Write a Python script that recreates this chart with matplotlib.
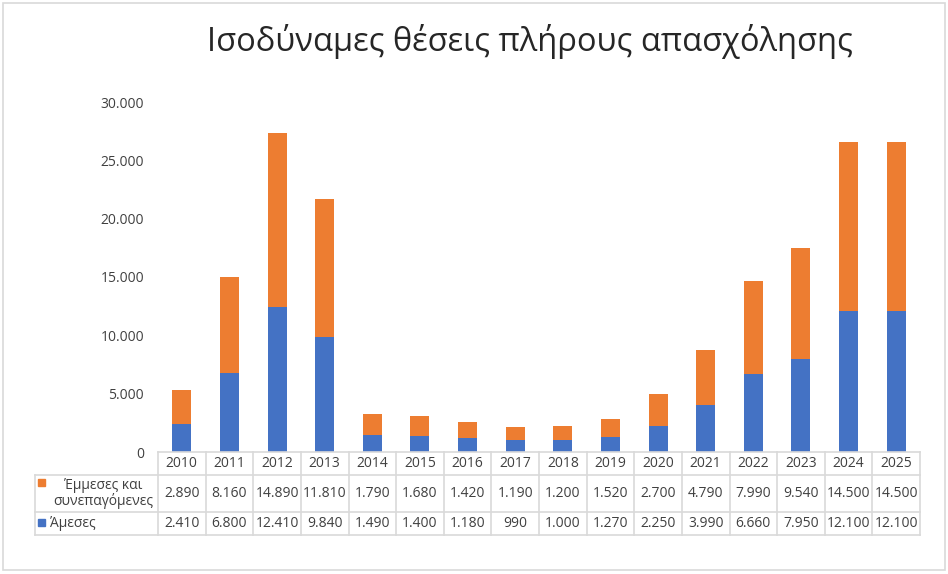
import numpy as np
import matplotlib.pyplot as plt
from matplotlib.transforms import blended_transform_factory
from matplotlib.patches import Rectangle

plt.rcParams['font.family'] = ['Open Sans', 'DejaVu Sans']

# Data
years = ['2010', '2011', '2012', '2013', '2014', '2015', '2016', '2017',
         '2018', '2019', '2020', '2021', '2022', '2023', '2024', '2025']
amesis = [2410, 6800, 12410, 9840, 1490, 1400, 1180, 990,
          1000, 1270, 2250, 3990, 6660, 7950, 12100, 12100]
emmeses = [2890, 8160, 14890, 11810, 1790, 1680, 1420, 1190,
           1200, 1520, 2700, 4790, 7990, 9540, 14500, 14500]
series_names = ['Έμμεσες και\nσυνεπαγόμενες', 'Άμεσες']

blue = '#4472C4'
orange = '#ED7D31'
grid_c = '#D9D9D9'
txt_c = '#404040'

def fmt(v):
    return f'{v:,}'.replace(',', '.')

fig = plt.figure(figsize=(9.48, 5.74), dpi=100)
ax = fig.add_axes([158 / 948, 1 - 452 / 574, (920 - 158) / 948, (452 - 102) / 574])

x = np.arange(len(years))
ax.bar(x, amesis, width=0.4, color=blue, zorder=2)
ax.bar(x, emmeses, width=0.4, bottom=amesis, color=orange, zorder=2)

ax.set_xlim(-0.5, len(years) - 0.5)
ax.set_ylim(0, 30000)
ax.set_yticks(np.arange(0, 30001, 5000))
ax.set_yticklabels([fmt(v) for v in range(0, 30001, 5000)], color=txt_c, fontsize=10)
ax.set_xticks([])
ax.tick_params(axis='y', length=0, pad=10)
for s in ax.spines.values():
    s.set_visible(False)

fig.text(0.559, 0.927, 'Ισοδύναμες θέσεις πλήρους απασχόλησης', ha='center', va='center',
         fontsize=23.5, color='#262626')

# data table under the plot
tr = blended_transform_factory(ax.transData, fig.transFigure)
row_y = [1 - 452 / 574, 1 - 475 / 574, 1 - 512 / 574, 1 - 535 / 574]
left_x = 35 / 948
trf = fig.transFigure

def hline(y, x0):
    fig.add_artist(plt.Line2D([x0, 920 / 948], [y, y], transform=trf, color=grid_c, lw=1.2))

hline(row_y[0], 158 / 948)
for y in row_y[1:]:
    hline(y, left_x)
# vertical lines
for i in range(len(years) + 1):
    xf = (158 + i * (920 - 158) / len(years)) / 948
    fig.add_artist(plt.Line2D([xf, xf], [row_y[0], row_y[3]], transform=trf, color=grid_c, lw=1.2))
fig.add_artist(plt.Line2D([left_x, left_x], [row_y[1], row_y[3]], transform=trf, color=grid_c, lw=1.2))

for i, yr in enumerate(years):
    ax.text(i, (row_y[0] + row_y[1]) / 2, yr, transform=tr, ha='center', va='center',
            fontsize=10, color=txt_c, clip_on=False)
    ax.text(i, (row_y[1] + row_y[2]) / 2, fmt(emmeses[i]), transform=tr, ha='center', va='center',
            fontsize=10, color=txt_c, clip_on=False)
    ax.text(i, (row_y[2] + row_y[3]) / 2, fmt(amesis[i]), transform=tr, ha='center', va='center',
            fontsize=10, color=txt_c, clip_on=False)

# legend keys in table
sq = 7
fig.add_artist(Rectangle((38 / 948, 1 - 486 / 574), sq / 948, sq / 574, transform=trf, color=orange))
fig.add_artist(Rectangle((38 / 948, 1 - 526 / 574), sq / 948, sq / 574, transform=trf, color=blue))
fig.text(103 / 948, (row_y[1] + row_y[2]) / 2, series_names[0], ha='center', va='center',
         fontsize=10, color=txt_c, linespacing=1.0)
fig.text(50 / 948, (row_y[2] + row_y[3]) / 2, series_names[1], ha='left', va='center',
         fontsize=10, color=txt_c)

# chart border
fig.add_artist(Rectangle((3 / 948, 4 / 574), 942 / 948, 567 / 574, transform=trf,
                         fill=False, edgecolor=grid_c, lw=1.2))

fig.savefig('out.png', dpi=100)
